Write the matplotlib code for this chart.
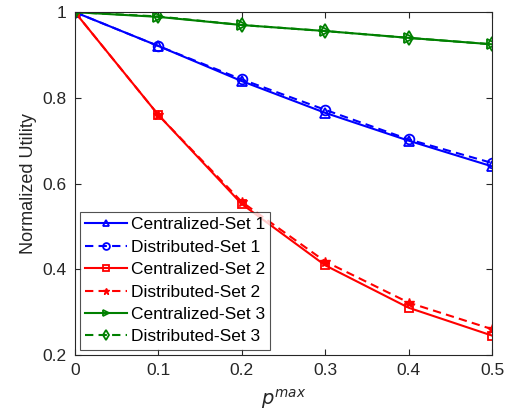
import matplotlib
matplotlib.use('Agg')
import matplotlib.pyplot as plt

plt.rcParams['font.family'] = ['Liberation Sans', 'DejaVu Sans']

p_max = [0, 0.1, 0.2, 0.3, 0.4, 0.5]
cent_set1 = [1.0, 0.921, 0.839, 0.765, 0.700, 0.640]
dist_set1 = [1.0, 0.921, 0.843, 0.772, 0.703, 0.648]
cent_set2 = [1.0, 0.760, 0.552, 0.409, 0.310, 0.245]
dist_set2 = [1.0, 0.760, 0.557, 0.418, 0.322, 0.260]
cent_set3 = [1.0, 0.989, 0.970, 0.956, 0.940, 0.925]
dist_set3 = [1.0, 0.990, 0.970, 0.956, 0.940, 0.925]

fig = plt.figure(figsize=(5.1, 4.2), dpi=100)
ax = fig.add_axes([0.147, 0.155, 0.818, 0.816])

dash = (0, (4, 2.5))
ax.plot(p_max, cent_set1, '-', color='blue', marker='^', mfc='none', ms=7, mew=1.3, lw=1.5, label='Centralized-Set 1')
ax.plot(p_max, dist_set1, ls=dash, color='blue', marker='o', mfc='none', ms=7, mew=1.3, lw=1.5, label='Distributed-Set 1')
ax.plot(p_max, cent_set2, '-', color='red', marker='s', mfc='none', ms=6, mew=1.3, lw=1.5, label='Centralized-Set 2')
ax.plot(p_max, dist_set2, ls=dash, color='red', marker='*', ms=7, lw=1.5, label='Distributed-Set 2')
ax.plot(p_max, cent_set3, '-', color='green', marker='>', mfc='none', ms=7, mew=1.3, lw=1.5, label='Centralized-Set 3')
ax.plot(p_max, dist_set3, ls=dash, color='green', marker='d', mfc='none', ms=7, mew=1.3, lw=1.5, label='Distributed-Set 3')

ax.set_xlim(0, 0.5)
ax.set_ylim(0.2, 1.0)
ax.set_xticks([0, 0.1, 0.2, 0.3, 0.4, 0.5])
ax.set_xticklabels(['0', '0.1', '0.2', '0.3', '0.4', '0.5'])
ax.set_yticks([0.2, 0.4, 0.6, 0.8, 1.0])
ax.set_yticklabels(['0.2', '0.4', '0.6', '0.8', '1'])
ax.tick_params(direction='in', top=True, right=True, labelsize=12.5, colors='#262626', length=4, pad=6)
for s in ax.spines.values():
    s.set_color('#262626')
ax.set_xlabel('$p^{max}$', fontsize=14, color='#262626', labelpad=6)
ax.set_ylabel('Normalized Utility', fontsize=13, color='#262626')

leg = ax.legend(loc='lower left', fontsize=12.5, fancybox=False, edgecolor='#262626',
                handlelength=2.4, borderpad=0.3, labelspacing=0.42, handletextpad=0.2,
                borderaxespad=0.3, markerscale=0.7)
leg.get_frame().set_linewidth(0.8)

fig.savefig('out.png', dpi=100)
